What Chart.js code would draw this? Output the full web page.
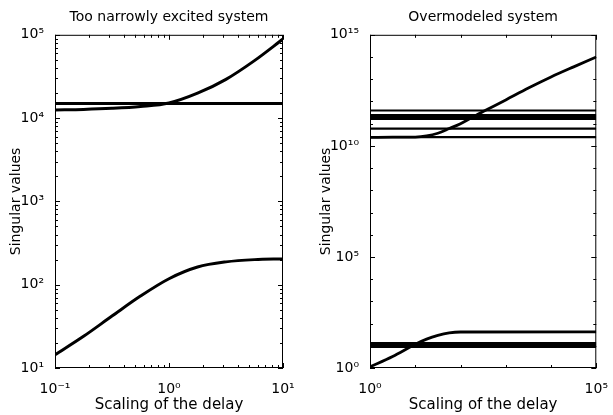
<!DOCTYPE html>
<html>
<head>
<meta charset="utf-8">
<script src="https://cdn.jsdelivr.net/npm/chart.js@4"></script>
<style>
  body { margin: 0; background: #fff; }
  #wrap { position: relative; width: 613px; height: 415px; }
  canvas { position: absolute; top: 0; }
  #left { left: 0; }
  #right { left: 300px; }
</style>
</head>
<body>
<div id="wrap">
  <canvas id="left" width="300" height="415"></canvas>
  <canvas id="right" width="313" height="415"></canvas>
</div>
<script>
// ---- left panel: too narrowly excited system ----
const leftX = [0.1, 0.178, 0.316, 0.562, 1, 1.78, 3.16, 5.62, 10];
const leftRising = [12500, 12700, 13100, 13800, 15200, 19900, 29200, 49000, 89000];
const leftLower = [14.4, 24, 42, 73, 118, 163, 188, 200, 204];
const leftFlatX = [0.1, 10];
const leftFlat = [15000, 15000];
const leftXTicks = [0.1, 1, 10];
const leftYTicks = [10, 100, 1000, 10000, 100000];

// ---- right panel: overmodeled system ----
const rightUpperX = [1, 3.16, 10, 17.8, 31.6, 56.2, 100, 178, 316, 1000, 3162, 10000, 31623, 100000];
const rightUpper = [2.4e10, 2.45e10, 2.5e10, 2.8e10, 3.7e10, 6.0e10, 1.0e11, 1.9e11, 3.5e11, 1.17e12, 4.0e12, 1.26e13, 3.6e13, 1.0e14];
const rightLowerX = [1, 3.16, 10, 17.8, 31.6, 56.2, 100, 100000];
const rightLower = [1.12, 3.3, 11.7, 20, 29.5, 38, 41.7, 42.7];
const rightFlatX = [1, 100000];
const rightFlatHigh = [3.9e11, 2.3e11, 1.7e11, 6.0e10, 2.45e10];
const rightFlatLow = [12.6, 9.3];
const rightXTicks = [1, 100000];
const rightYTicks = [1, 1e5, 1e10, 1e15];

Chart.defaults.font.family = 'DejaVu Sans';
Chart.defaults.color = '#000';

const SUP = {'0':'⁰','1':'¹','2':'²','3':'³','4':'⁴','5':'⁵','6':'⁶','7':'⁷','8':'⁸','9':'⁹','-':'⁻'};
function pow10Label(v) {
  const e = Math.round(Math.log10(v));
  return '10' + String(e).split('').map(c => SUP[c]).join('');
}

function series(xs, ys, width) {
  return {
    data: xs.map((x, i) => ({x: x, y: ys[i]})),
    borderColor: '#000',
    borderWidth: width,
    pointRadius: 0,
    cubicInterpolationMode: 'monotone',
    fill: false
  };
}

// decade minor ticks (2..9 or just decades)
function minorTicks(min, max, subs) {
  const out = [];
  for (let d = min; d < max * 0.999; d *= 10) {
    if (subs) { for (let k = 2; k <= 9; k++) out.push(d * k); }
    else if (d > min) out.push(d);
  }
  return out;
}

// box + inward MATLAB-style tick marks
const frame = {
  id: 'frame',
  afterDatasetsDraw(chart, args, opts) {
    const {ctx, chartArea: a, scales} = chart;
    const x = scales.x, y = scales.y;
    ctx.save();
    ctx.strokeStyle = '#000';
    ctx.lineWidth = 1;
    ctx.strokeRect(a.left + 0.5, a.top + 0.5, a.width - 1, a.height - 1);
    ctx.beginPath();
    const xt = opts.xMajor.map(v => [v, 5]).concat(opts.xMinor.map(v => [v, 3]));
    xt.forEach(([v, len]) => {
      const px = Math.round(x.getPixelForValue(v)) + 0.5;
      ctx.moveTo(px, a.bottom); ctx.lineTo(px, a.bottom - len);
      ctx.moveTo(px, a.top); ctx.lineTo(px, a.top + len);
    });
    const yt = opts.yMajor.map(v => [v, 5]).concat(opts.yMinor.map(v => [v, 3]));
    yt.forEach(([v, len]) => {
      const py = Math.round(y.getPixelForValue(v)) + 0.5;
      ctx.moveTo(a.left, py); ctx.lineTo(a.left + len, py);
      ctx.moveTo(a.right, py); ctx.lineTo(a.right - len, py);
    });
    ctx.stroke();
    ctx.restore();
  }
};

function axes(xMin, xMax, xTicks, yMin, yMax, yTicks, yWidth, yTitlePad) {
  return {
    x: {
      type: 'logarithmic', min: xMin, max: xMax,
      afterBuildTicks: s => { s.ticks = xTicks.map(v => ({value: v})); },
      afterFit: s => { s.height = 47; },
      grid: { display: false },
      border: { display: false },
      ticks: { callback: v => pow10Label(v), font: { size: 14 }, padding: 5, maxRotation: 0, autoSkip: false, color: '#000' },
      title: { display: true, text: 'Scaling of the delay', font: { size: 15 }, padding: { bottom: 1 }, color: '#000' }
    },
    y: {
      type: 'logarithmic', min: yMin, max: yMax,
      afterBuildTicks: s => { s.ticks = yTicks.map(v => ({value: v})); },
      afterFit: s => { s.width = yWidth; },
      grid: { display: false },
      border: { display: false },
      ticks: { callback: v => pow10Label(v), font: { size: 14 }, padding: 3, autoSkip: false, color: '#000' },
      title: { display: true, text: 'Singular values', font: { size: 14 }, padding: { top: yTitlePad }, color: '#000' }
    }
  };
}

function titleOpts(text) {
  return { display: true, text: text, fullSize: false, font: { size: 14, weight: 'normal' }, padding: { top: 9, bottom: 9 }, color: '#000' };
}

new Chart(document.getElementById('left'), {
  type: 'line',
  data: {
    datasets: [
      series(leftFlatX, leftFlat, 3),
      series(leftX, leftRising, 3),
      series(leftX, leftLower, 3)
    ]
  },
  options: {
    responsive: false,
    animation: false,
    layout: { padding: { left: 0, right: 17, top: 0, bottom: 0 } },
    scales: axes(0.1, 10, leftXTicks, 10, 1e5, leftYTicks, 55, 8),
    plugins: {
      legend: { display: false },
      tooltip: { enabled: false },
      title: titleOpts('Too narrowly excited system'),
      frame: {
        xMajor: leftXTicks, xMinor: minorTicks(0.1, 10, true),
        yMajor: leftYTicks, yMinor: minorTicks(10, 1e5, true)
      }
    }
  },
  plugins: [frame]
});

new Chart(document.getElementById('right'), {
  type: 'line',
  data: {
    datasets: [
      ...rightFlatHigh.map((v, i) => series(rightFlatX, [v, v], (i === 1 || i === 2) ? 3 : 2.2)),
      ...rightFlatLow.map(v => series(rightFlatX, [v, v], 3)),
      series(rightUpperX, rightUpper, 2.8),
      series(rightLowerX, rightLower, 2.8)
    ]
  },
  options: {
    responsive: false,
    animation: false,
    layout: { padding: { left: 0, right: 14, top: 0, bottom: 0 } },
    scales: axes(1, 1e5, rightXTicks, 1, 1e15, rightYTicks, 70, 18),
    plugins: {
      legend: { display: false },
      tooltip: { enabled: false },
      title: titleOpts('Overmodeled system'),
      frame: {
        xMajor: rightXTicks, xMinor: minorTicks(1, 1e5, false),
        yMajor: rightYTicks, yMinor: minorTicks(1, 1e15, false)
      }
    }
  },
  plugins: [frame]
});
</script>
</body>
</html>
